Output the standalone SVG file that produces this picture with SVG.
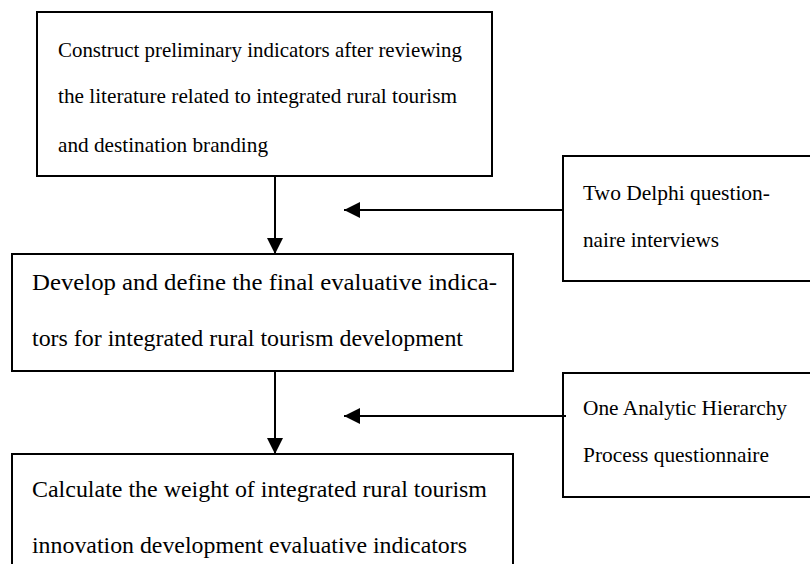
<svg xmlns="http://www.w3.org/2000/svg" width="810" height="564" viewBox="0 0 810 564">
  <defs>
    <style>
      .box { fill: #ffffff; stroke: #000000; stroke-width: 2; }
      .c { stroke: #000000; stroke-width: 2; fill: none; }
    </style>
    <marker id="ah" markerUnits="userSpaceOnUse" markerWidth="16" markerHeight="16" viewBox="0 0 16 16" refX="16" refY="8" orient="auto">
      <path d="M0,0 L16,8 L0,16 Z" fill="#000000"/>
    </marker>
  </defs>
  <rect width="810" height="564" fill="#ffffff"/>

  <g id="node-construct" font-family="'Liberation Serif', 'Times New Roman', serif" fill="#000000">
    <rect class="box" x="37" y="12" width="455" height="164"/>
    <text font-size="21" x="58" y="57" textLength="404" lengthAdjust="spacingAndGlyphs">Construct preliminary indicators after reviewing</text>
    <text font-size="21" x="58" y="103" textLength="399" lengthAdjust="spacingAndGlyphs">the literature related to integrated rural tourism</text>
    <text font-size="21" x="58" y="152" textLength="210" lengthAdjust="spacingAndGlyphs">and destination branding</text>
  </g>

  <g id="node-develop" font-family="'Liberation Serif', 'Times New Roman', serif" fill="#000000">
    <rect class="box" x="12" y="254" width="501" height="117"/>
    <text font-size="24" x="32" y="290" textLength="465" lengthAdjust="spacingAndGlyphs">Develop and define the final evaluative indica-</text>
    <text font-size="24" x="32" y="346" textLength="431" lengthAdjust="spacingAndGlyphs">tors for integrated rural tourism development</text>
  </g>

  <g id="node-calculate" font-family="'Liberation Serif', 'Times New Roman', serif" fill="#000000">
    <rect class="box" x="12" y="454" width="501" height="130"/>
    <text font-size="24" x="32" y="497" textLength="455" lengthAdjust="spacingAndGlyphs">Calculate the weight of integrated rural tourism</text>
    <text font-size="24" x="32" y="553" textLength="435" lengthAdjust="spacingAndGlyphs">innovation development evaluative indicators</text>
  </g>

  <g id="node-delphi" font-family="'Liberation Serif', 'Times New Roman', serif" fill="#000000">
    <rect class="box" x="563" y="156" width="270" height="125"/>
    <text font-size="21" x="583" y="200" textLength="187" lengthAdjust="spacingAndGlyphs">Two Delphi question-</text>
    <text font-size="21" x="583" y="247" textLength="136" lengthAdjust="spacingAndGlyphs">naire interviews</text>
  </g>

  <g id="node-ahp" font-family="'Liberation Serif', 'Times New Roman', serif" fill="#000000">
    <rect class="box" x="563" y="373" width="270" height="124"/>
    <text font-size="21" x="583" y="415" textLength="204" lengthAdjust="spacingAndGlyphs">One Analytic Hierarchy</text>
    <text font-size="21" x="583" y="462" textLength="186" lengthAdjust="spacingAndGlyphs">Process questionnaire</text>
  </g>

  <g id="connectors">
    <line class="c" x1="275" y1="176" x2="275" y2="254" marker-end="url(#ah)"/>
    <line class="c" x1="275" y1="371" x2="275" y2="454" marker-end="url(#ah)"/>
    <line class="c" x1="564" y1="210" x2="344" y2="210" marker-end="url(#ah)"/>
    <line class="c" x1="566" y1="416" x2="344" y2="416" marker-end="url(#ah)"/>
  </g>
</svg>
